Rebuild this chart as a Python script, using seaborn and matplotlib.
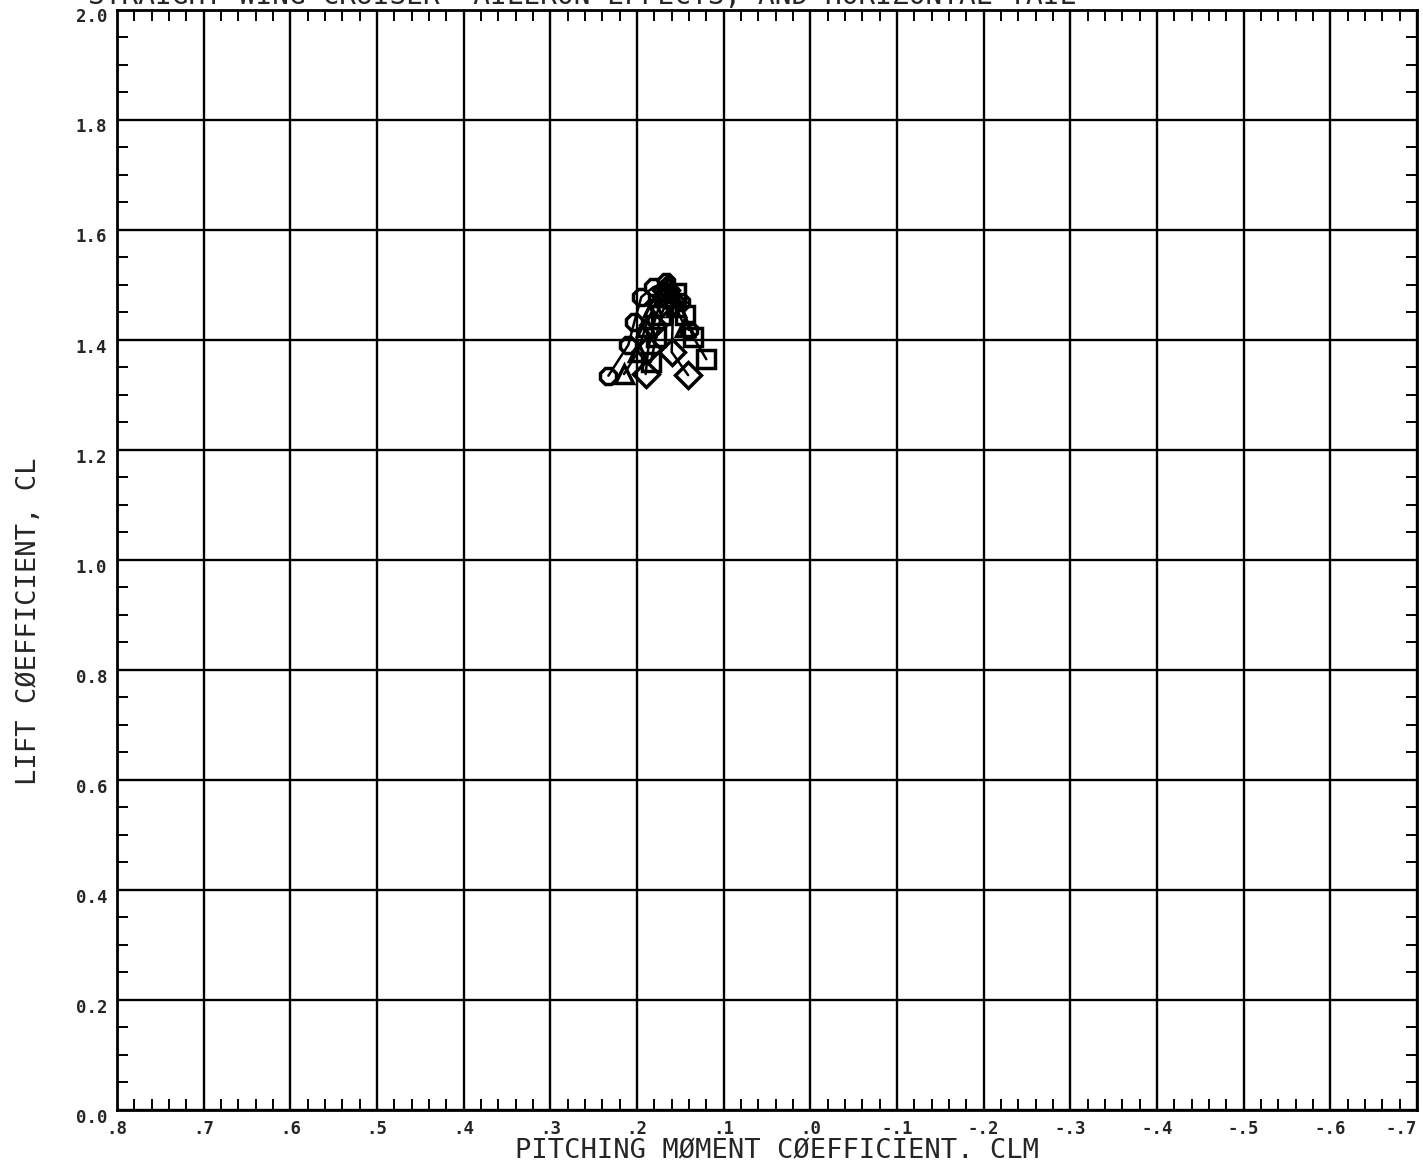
import numpy as np
import matplotlib
matplotlib.use("Agg")
import matplotlib.pyplot as plt
from matplotlib.ticker import MultipleLocator, FixedLocator
from matplotlib.transforms import ScaledTranslation
import pandas as pd
import seaborn as sns

# plotted data
clm_oct = [0.233, 0.210, 0.203, 0.195, 0.181, 0.166, 0.149, 0.140]
cl_oct = [1.335, 1.391, 1.433, 1.478, 1.496, 1.505, 1.469, 1.418]

clm_tri = [0.215, 0.199, 0.190, 0.181, 0.172, 0.163, 0.155, 0.145]
cl_tri = [1.338, 1.378, 1.424, 1.460, 1.487, 1.500, 1.460, 1.424]

clm_dia = [0.190, 0.187, 0.181, 0.174, 0.166, 0.158, 0.160, 0.141]
cl_dia = [1.338, 1.384, 1.427, 1.464, 1.491, 1.469, 1.378, 1.336]

clm_sq = [0.184, 0.178, 0.172, 0.164, 0.155, 0.145, 0.135, 0.120]
cl_sq = [1.360, 1.405, 1.445, 1.478, 1.485, 1.445, 1.405, 1.365]

x_ticks = [0.8, 0.7, 0.6, 0.5, 0.4, 0.3, 0.2, 0.1, 0.0,
           -0.1, -0.2, -0.3, -0.4, -0.5, -0.6, -0.7]
x_labels = [".8", ".7", ".6", ".5", ".4", ".3", ".2", ".1", ".0",
            "-.1", "-.2", "-.3", "-.4", "-.5", "-.6", "-.7"]
y_ticks = [0.0, 0.2, 0.4, 0.6, 0.8, 1.0, 1.2, 1.4, 1.6, 1.8, 2.0]
y_labels = ["0.0", "0.2", "0.4", "0.6", "0.8", "1.0",
            "1.2", "1.4", "1.6", "1.8", "2.0"]

title = "STRAIGHT WING CRUISER- AILERON EFFECTS, AND HORIZONTAL TAIL"
x_label = "PITCHING M\u00d8MENT C\u00d8EFFICIENT. CLM"
y_label = "LIFT C\u00d8EFFICIENT, CL"

df = pd.concat([
    pd.DataFrame({"clm": clm_oct, "cl": cl_oct, "run": "oct"}),
    pd.DataFrame({"clm": clm_tri, "cl": cl_tri, "run": "tri"}),
    pd.DataFrame({"clm": clm_dia, "cl": cl_dia, "run": "dia"}),
    pd.DataFrame({"clm": clm_sq, "cl": cl_sq, "run": "sq"}),
])

sns.set_style("white")
plt.rcParams['font.family'] = ['DejaVu Sans Mono', 'DejaVu Sans']

fig = plt.figure(figsize=(14.23, 11.69), dpi=100)
ax = fig.add_axes([0.0822, 0.0505, 0.9136, 0.941])

sns.lineplot(data=df, x="clm", y="cl", style="run", units="run",
             estimator=None, sort=False, dashes=False,
             markers={"oct": "8", "tri": "^", "dia": "D", "sq": "s"},
             color="black", linewidth=1.8, markersize=13,
             markeredgewidth=2.5, markeredgecolor="black",
             legend=False, ax=ax)
for ln in ax.lines:
    ln.set_markerfacecolor("none")

ax.set_xlim(0.8, -0.7)
ax.set_ylim(0.0, 2.0)

ax.xaxis.set_major_locator(FixedLocator(x_ticks))
ax.set_xticklabels(x_labels)
ax.yaxis.set_major_locator(FixedLocator(y_ticks))
ax.set_yticklabels(y_labels)
ax.xaxis.set_minor_locator(MultipleLocator(0.02))
ax.yaxis.set_minor_locator(MultipleLocator(0.05))

ax.grid(True, which="major", color="black", linewidth=1.7)
ax.tick_params(which="major", length=0, pad=7, labelsize=12.5)
ax.tick_params(which="minor", direction="in", length=8, width=1.4,
               top=True, bottom=True, left=True, right=True, color="black")
for lab in ax.get_xticklabels() + ax.get_yticklabels():
    lab.set_fontweight("bold")
# y labels sit a little below their grid lines on the plotter output
shift = ScaledTranslation(0, -4 / 72, fig.dpi_scale_trans)
for lab in ax.get_yticklabels():
    lab.set_transform(lab.get_transform() + shift)
ax.get_xticklabels()[-1].set_horizontalalignment("right")

for sp in ax.spines.values():
    sp.set_color("black")
    sp.set_linewidth(2)

ax.set_xlabel(x_label, fontsize=19.5)
ax.set_ylabel(y_label, fontsize=19.5)
ax.xaxis.set_label_coords(0.508, -0.026)
ax.yaxis.set_label_coords(-0.058, 0.444)

fig.text(0.062, 1.0 + 4 / 1169, title, fontsize=20,
         ha="left", va="center")

fig.savefig("out.png", dpi=100, facecolor="white")
